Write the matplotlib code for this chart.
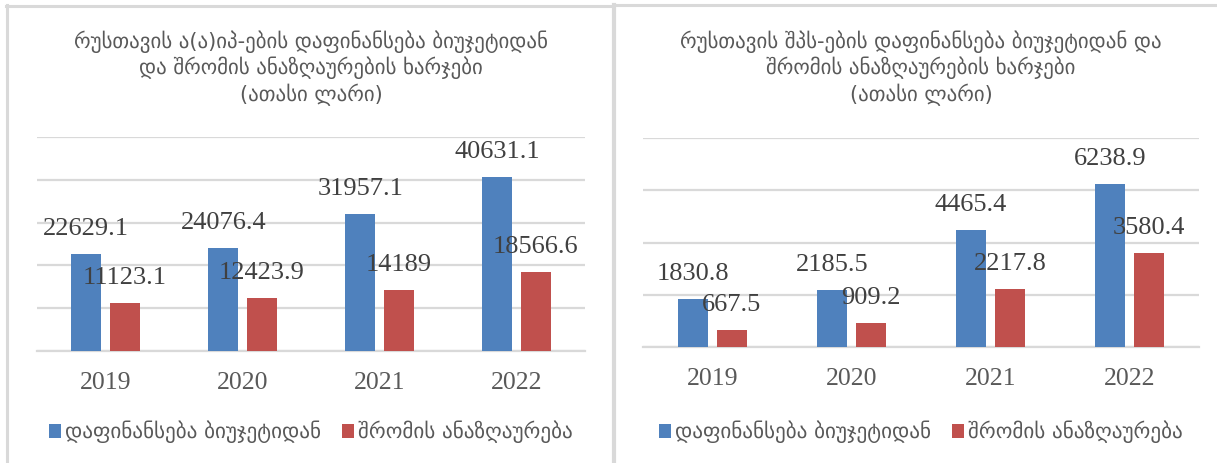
import matplotlib
matplotlib.use("Agg")
import matplotlib.pyplot as plt
from matplotlib.lines import Line2D
from matplotlib.patches import Patch

years = ["2019", "2020", "2021", "2022"]
series_names = ["დაფინანსება ბიუჯეტიდან", "შრომის ანაზღაურება"]

left_funding = [22629.1, 24076.4, 31957.1, 40631.1]
left_salary = [11123.1, 12423.9, 14189, 18566.6]
left_labels_funding = ["22629.1", "24076.4", "31957.1", "40631.1"]
left_labels_salary = ["11123.1", "12423.9", "14189", "18566.6"]
left_title = "რუსთავის ა(ა)იპ-ების დაფინანსება ბიუჯეტიდან\nდა შრომის ანაზღაურების ხარჯები\n(ათასი ლარი)"

right_funding = [1830.8, 2185.5, 4465.4, 6238.9]
right_salary = [667.5, 909.2, 2217.8, 3580.4]
right_labels_funding = ["1830.8", "2185.5", "4465.4", "6238.9"]
right_labels_salary = ["667.5", "909.2", "2217.8", "3580.4"]
right_title = "რუსთავის შპს-ების დაფინანსება ბიუჯეტიდან და\nშრომის ანაზღაურების ხარჯები\n(ათასი ლარი)"

BLUE = "#4F81BD"
RED = "#C0504D"
GRID = "#D9D9D9"
TXT = "#595959"
LBL = "#404040"
W, H = 1217, 463

fig = plt.figure(figsize=(W / 100, H / 100), dpi=100)
fig.patch.set_facecolor("white")

GEO = ["DejaVu Sans"]
NUM = ["Liberation Serif", "DejaVu Serif"]


def px_rect(x0, x1, ytop, ybot):
    return [x0 / W, (H - ybot) / H, (x1 - x0) / W, (ybot - ytop) / H]


def panel(rect, funding, salary, lab_f, lab_s, ymax, ystep, title, title_y):
    ax = fig.add_axes(rect)
    x = list(range(len(years)))
    bw = 0.22
    off = 0.14
    b1 = ax.bar([i - off for i in x], funding, width=bw, color=BLUE, zorder=3)
    b2 = ax.bar([i + off for i in x], salary, width=bw, color=RED, zorder=3)
    ax.set_xlim(-0.5, len(years) - 0.5)
    ax.set_ylim(0, ymax)
    ax.set_yticks(list(range(0, ymax + 1, ystep)))
    ax.yaxis.grid(True, color=GRID, lw=1.6, zorder=0)
    ax.set_axisbelow(True)
    ax.tick_params(axis="y", left=False, labelleft=False)
    ax.set_xticks(x)
    ax.set_xticklabels(years, family=NUM, fontsize=18.5, color=TXT)
    ax.tick_params(axis="x", length=0, pad=15)
    for s in ["top", "right", "left"]:
        ax.spines[s].set_visible(False)
    ax.spines["bottom"].set_color(GRID)
    ax.spines["bottom"].set_linewidth(1.6)
    for bars, labs in ((b1, lab_f), (b2, lab_s)):
        for rect_, t in zip(bars, labs):
            ax.annotate(t, (rect_.get_x() + rect_.get_width() / 2, rect_.get_height()),
                        xytext=(0, 25), textcoords="offset pixels",
                        ha="center", va="center", family=NUM, fontsize=19,
                        color=LBL, zorder=5)
    pos = ax.get_position()
    cx = (pos.x0 + pos.x1) / 2
    fig.text(cx, title_y, title, ha="center", va="center", family=GEO,
             fontsize=15, color=TXT, linespacing=1.22)
    handles = [Patch(facecolor=BLUE), Patch(facecolor=RED)]
    fig.legend(handles, series_names, loc="center", bbox_to_anchor=(cx, (H - 432) / H),
               ncol=2, frameon=False, prop={"family": GEO, "size": 15.2},
               labelcolor=TXT, handlelength=0.55, handleheight=0.6,
               handletextpad=0.2, columnspacing=1.0)
    return ax


panel(px_rect(37, 585, 137, 351), left_funding, left_salary,
      left_labels_funding, left_labels_salary, 50000, 10000, left_title, (H - 68) / H)
panel(px_rect(643, 1199, 138, 347), right_funding, right_salary,
      right_labels_funding, right_labels_salary, 8000, 2000, right_title, (H - 68) / H)


def fline(x0, y0, x1, y1, lw):
    fig.add_artist(Line2D([x0 / W, x1 / W], [(H - y0) / H, (H - y1) / H],
                          transform=fig.transFigure, color=GRID, lw=lw))


fline(6, 5.5, 614, 5.5, 2.2)
fline(614, 5, 1217, 5, 2.2)
fline(7, 5, 7, 463, 2.2)
fline(614, 5, 614, 463, 3.0)

fig.savefig("out.png", dpi=100)
